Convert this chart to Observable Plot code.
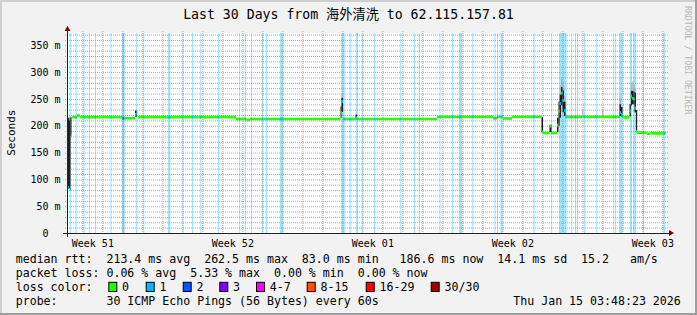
<!DOCTYPE html>
<html><head><meta charset="utf-8">
<script src="https://cdn.jsdelivr.net/npm/d3@7"></script>
<script src="https://cdn.jsdelivr.net/npm/@observablehq/plot@0.6"></script>
<style>body{margin:0;background:#f2f2f2}</style>
</head><body>
<script>
const FONT = "'DejaVu Sans Mono', 'Noto Sans CJK SC', monospace";
const title = "Last 30 Days from 海外清洗 to 62.115.157.81";
const yTitle = "Seconds";
const watermark = "RRDTOOL / TOBI OETIKER";
const yTicks = [0, 50, 100, 150, 200, 250, 300, 350];
const weekLabels = ["Week 51", "Week 52", "Week 01", "Week 02", "Week 03"];
const weekLabelHours = [30.4, 198.4, 366.4, 534.4, 702.4];
const weekStartHours = [114.4, 282.4, 450.4, 618.4];
const firstMidnightHour = 18.4;

// median rtt runs: [fromHour, toHour, ms, loss]
const medianRuns = [
  [0,1.0,133,0],[1.0,2.2,86,1],[2.2,3.4,213,0],[3.4,4.8,83,0],[4.8,6.0,183,0],
  [6.0,12.0,217,0],[12.0,15.6,220,0],[15.6,66.0,217,0],[66.0,81.6,215,0],
  [81.6,83.4,222,0],[83.4,84.6,226,0],[84.6,202.8,217,0],[202.8,215.4,213.5,0],
  [215.4,219.6,211.5,0],[219.6,328.2,213.5,0],[328.2,329.4,226,0],[329.4,331.2,246,0],
  [331.2,346.2,213.5,0],[346.2,348.0,215,0],[348.0,444.0,213.5,0],[444.0,511.2,217.5,0],
  [511.2,516.0,215,0],[516.0,523.2,217.5,0],[523.2,534.0,214.5,0],[534.0,569.4,217.5,0],
  [569.4,571.2,189,0],[571.2,579.0,187.3,0],[579.0,581.4,200,0],[581.4,588.0,187.3,0],
  [588.0,589.8,202,0],[589.8,591.2,228,0],[591.2,592.8,242,0],[592.8,594.6,262,0],
  [594.6,596.4,248,0],[596.4,598.2,229,0],[598.2,663.0,217.5,0],[663.0,664.8,226,0],
  [664.8,666.6,222,0],[666.6,675.0,216.5,0],[675.0,676.6,228,0],[676.6,678.0,256,0],
  [678.0,679.6,252,0],[679.6,681.0,251,0],[681.0,682.8,234,0],[682.8,684.2,190,0],
  [684.2,695.4,188,0],[695.4,700.2,186,0],[700.2,718.6,186.8,0]
];
// dense smoke: [fromHour, toHour, loMs, hiMs]
const smokeDark = [
  [0,4.2,83,215],[4.2,5.4,182,216],[81.6,84.0,217,228],[328.2,329.4,214,236],
  [329.4,331.2,226,252],[346.2,348.0,212,221],[569.4,571.2,187,216],[579.0,581.4,188,202],
  [588.0,589.8,188,215],[589.8,591.2,200,245],[591.2,592.8,215,258],[592.8,594.6,238,272],
  [594.6,596.4,225,266],[596.4,598.2,218,245],[663.0,664.8,218,240],[664.8,666.6,217,235],
  [675.0,676.6,217,240],[676.6,678.0,238,265],[678.0,679.6,240,265],[679.6,681.0,240,264],
  [681.0,682.8,225,262],[682.8,684.2,188,229]
];
// faint smoke: [fromHour, toHour, loMs, hiMs]
const smokeLight = [
  [329.4,331.2,252,259],[591.2,592.8,258,275],[592.8,594.6,272,290],[594.6,596.4,266,282],
  [596.4,598.2,245,255],[618.0,619.8,219,229],[642.0,643.8,219,230],[663.0,664.8,240,252],
  [676.6,678.0,265,280],[678.0,679.6,265,283],[679.6,681.0,264,278],[681.0,682.8,262,270]
];
// packet loss periods: [fromHour, toHour, lossLevel]
const lossBands = [
  [3.4,4.8,1],[10.2,11.6,1],[19.9,21.1,1],[26.2,27.4,1],[33.6,34.8,1],[52.2,53.4,1],
  [65.8,66.6,1],[66.6,68.6,2],[68.6,69.4,1],[82.8,84.0,1],[91.6,92.8,1],[121.2,124.0,1],[138.6,139.8,1],[150.0,151.2,1],
  [159.8,161.0,1],[181.2,182.4,1],[206.6,207.8,1],[213.4,214.6,1],[220.8,222.0,1],[234.0,235.2,1],
  [238.8,240.0,1],[255.6,259.6,1],[329.0,333.4,1],[339.1,340.6,1],[346.8,349.2,1],[353.8,355.0,1],
  [368.4,369.6,1],[399.8,401.0,1],[416.4,417.6,1],[422.4,423.6,1],[447.0,448.2,1],[462.0,463.2,1],
  [470.4,474.0,1],[486.2,487.4,1],[513.0,514.2,1],[516.0,517.2,1],[520.2,522.8,1],[559.6,561.2,1],
  [581.0,582.2,1],[590.4,599.6,1],[605.0,606.2,1],[609.6,611.0,1],[612.0,613.2,1],[620.4,621.6,1],
  [635.0,636.2,1],[655.4,656.6,1],[657.8,659.0,1],[662.4,666.8,1],[675.6,678.0,1],[679.2,682.8,1],
  [691.2,692.4,1],[715.6,717.6,1]
];
const lossColors = ["#26ff00","#00b8ff","#0059ff","#7e00ff","#ff00ff","#ff5500","#ff0000","#a10000"];
const lossLabels = ["0","1","2","3","4-7","8-15","16-29","30/30"];
const statsLine1 = "median rtt:  213.4 ms avg  262.5 ms max  83.0 ms min   186.6 ms now  14.1 ms sd  15.2   am/s";
const statsLine2 = "packet loss: 0.06 % avg  5.33 % max  0.00 % min  0.00 % now";
const lossColorLabel = "loss color:";
const probeLine = "probe:       30 ICMP Echo Pings (56 Bytes) every 60s";
const stamp = "Thu Jan 15 03:48:23 2026";

// derived tables
const med = medianRuns.map(([from,to,ms,loss]) => ({from,to,ms,loss}));
const bands = lossBands.map(([from,to,loss]) => ({from,to,loss}));
const dark = smokeDark.map(([from,to,lo,hi]) => ({from,to,lo,hi}));
const light = smokeLight.map(([from,to,lo,hi]) => ({from,to,lo,hi}));
const lossMed = [];
for (const b of bands) for (const m of med) {
  const f = Math.max(b.from, m.from), t = Math.min(b.to, m.to);
  if (t > f) lossMed.push({from: f, to: t, ms: m.ms, loss: b.loss});
}
const dayHours = d3.range(0, 30).map(k => firstMidnightHour + 24 * k)
  .filter(h => h < 720 && !weekStartHours.some(w => Math.abs(w - h) < 0.01));
const yMinor = d3.range(10, 380, 10).filter(v => v % 50 !== 0 && v < 372.9);
const yMajor = yTicks.filter(v => v > 0);
const weekMap = new Map(weekLabelHours.map((h, i) => [h, weekLabels[i]]));

const chart = Plot.plot({
  width: 697, height: 315,
  marginLeft: 67, marginRight: 30, marginTop: 33, marginBottom: 82,
  x: {domain: [0, 720]},
  y: {domain: [0, 372.9]},
  style: {background: "#f2f2f2", fontFamily: FONT, fontSize: "10px", color: "#000"},
  marks: [
    Plot.frame({fill: "#ffffff", stroke: null}),
    Plot.rect(bands, {x1: "from", x2: "to", y1: 0, y2: 372.9, fill: d => lossColors[d.loss], fillOpacity: 0.376}),
    Plot.ruleY(yMinor, {stroke: "#8f8f8f", strokeOpacity: 0.75, strokeDasharray: "1,1", insetLeft: -2, insetRight: -2}),
    Plot.ruleX(dayHours, {stroke: "#8f8f8f", strokeOpacity: 0.75, strokeDasharray: "1,1", insetTop: -2, insetBottom: -2}),
    Plot.ruleY(yMajor, {stroke: "#de4f4f", strokeOpacity: 0.6, strokeDasharray: "1,1", insetLeft: -2, insetRight: -2}),
    Plot.ruleX(weekStartHours, {stroke: "#de4f4f", strokeOpacity: 0.6, strokeDasharray: "1,1", insetTop: -2, insetBottom: -2}),
    Plot.rect(light, {x1: "from", x2: "to", y1: "lo", y2: "hi", fill: "#a8a8a8", fillOpacity: 0.7}),
    Plot.rect(dark, {x1: "from", x2: "to", y1: "lo", y2: "hi", fill: "#1e1e1e"}),
    Plot.ruleY(med, {x1: "from", x2: "to", y: "ms", stroke: d => lossColors[d.loss], strokeWidth: 2.7}),
    Plot.ruleY(lossMed, {x1: "from", x2: "to", y: "ms", stroke: d => lossColors[d.loss], strokeWidth: 2.7}),
    Plot.ruleY([0], {stroke: "#212121", insetLeft: -4, insetRight: -4}),
    Plot.ruleX([0], {stroke: "#212121", insetTop: -4, insetBottom: -4}),
    Plot.axisY(yTicks, {tickSize: 0, tickPadding: 7, label: null, fontSize: 10,
      tickFormat: d => d === 0 ? "0\u00a0\u00a0" : `${d} m`}),
    Plot.axisX(weekLabelHours, {tickSize: 0, tickPadding: 6.5, label: null, fontSize: 10,
      tickFormat: d => weekMap.get(d)})
  ]
});
document.body.appendChild(chart);

// decorations
const svg = d3.select(chart);
const g = svg.append("g").attr("font-family", FONT).attr("fill", "#000");
// arrows
g.append("polygon").attr("points", "669,230 669,236 674,233").attr("fill", "#800000");
g.append("polygon").attr("points", "64.5,31 70.5,31 67.5,26").attr("fill", "#800000");
// frame shading
g.append("rect").attr("x", 0).attr("y", 0).attr("width", 697).attr("height", 2).attr("fill", "#cfcfcf");
g.append("rect").attr("x", 0).attr("y", 0).attr("width", 2).attr("height", 315).attr("fill", "#cfcfcf");
g.append("rect").attr("x", 0).attr("y", 313).attr("width", 697).attr("height", 2).attr("fill", "#9e9e9e");
g.append("rect").attr("x", 695).attr("y", 0).attr("width", 2).attr("height", 315).attr("fill", "#9e9e9e");
// title
g.append("text").attr("x", 348.5).attr("y", 19).attr("text-anchor", "middle")
  .attr("font-size", 13.2).text(title);
// y title
g.append("text").attr("transform", "translate(15,132.7) rotate(-90)").attr("text-anchor", "middle")
  .attr("font-size", 11).text(yTitle);
// watermark (reads top to bottom)
g.append("text").attr("transform", "translate(685.3,6) rotate(90)").attr("x", 0).attr("y", 0)
  .attr("text-anchor", "start").attr("font-size", 8.2)
  .attr("fill", "#b8b8b8").text(watermark);
// legend
const legX = 15.7, base = [263.3, 277.3, 291.3, 305.3], LFS = 11.6;
function ltext(x, y, s, anchor) {
  g.append("text").attr("x", x).attr("y", y).attr("font-size", LFS)
    .attr("text-anchor", anchor || "start").style("white-space", "pre").text(s);
}
ltext(legX, base[0], statsLine1);
ltext(legX, base[1], statsLine2);
ltext(legX, base[2], lossColorLabel);
const boxX = [108.3, 145.7, 182.7, 219.3, 256, 306.7, 365.7, 430.7];
lossLabels.forEach((lab, i) => {
  g.append("rect").attr("x", boxX[i] + 0.5).attr("y", 282.3).attr("width", 8).attr("height", 9.2)
    .attr("fill", lossColors[i]).attr("stroke", "#000").attr("stroke-width", 1);
  ltext(boxX[i] + 13.8, base[2], lab);
});
ltext(legX, base[3], probeLine);
ltext(680.8, base[3], stamp, "end");
</script>
</body></html>
